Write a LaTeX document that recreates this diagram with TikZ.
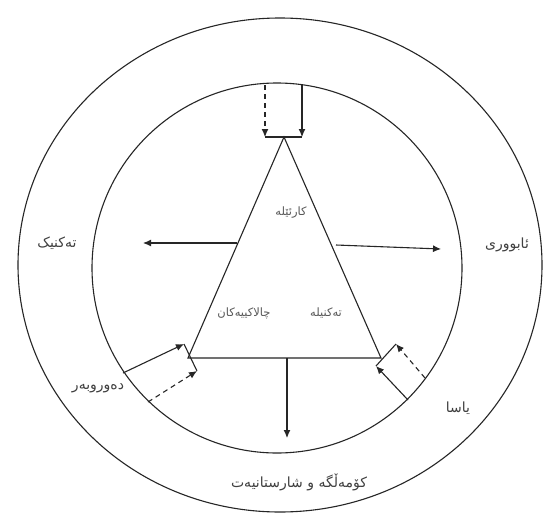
\documentclass[tikz,border=0pt]{standalone}
\usepackage{fontspec}
\usetikzlibrary{arrows.meta}
\TeXXeTstate=1
\newfontfamily\arabicfont[Script=Arabic]{DejaVu Sans}
\begin{document}
\begin{tikzpicture}[x=1pt,y=-1pt,
  ln/.style={line width=1.1pt,draw=black!85},
  arr/.style={ln,-{Latex[length=8pt,width=7pt]}},
  darr/.style={arr,dash pattern=on 5pt off 4pt},
  lbl/.style={font=\arabicfont\fontsize{14}{16}\selectfont,text=black!75,inner sep=1pt},
  slbl/.style={font=\arabicfont\fontsize{11.5}{13}\selectfont,text=black!65,inner sep=1pt}]
\useasboundingbox (0,0) rectangle (547,517);
\fill[white] (0,0) rectangle (547,517);
% circles
\draw[ln] (280,265) ellipse [x radius=262,y radius=247];
\draw[ln] (277,268) circle [radius=185];
% triangle
\coordinate (A) at (284,137);
\coordinate (B) at (188,358);
\coordinate (C) at (381,358);
\draw[ln] (A) -- (B) -- (C) -- cycle;
% top box
\coordinate (t1) at (265,85);
\coordinate (t2) at (302,85);
\coordinate (t3) at (265,137);
\coordinate (t4) at (302,137);
\draw[darr] (t1) -- (t3);
\draw[arr] (t2) -- (t4);
\draw[ln] (t3) -- (t4);
% side arrows
\coordinate (l0) at (237,243);
\coordinate (l1) at (143,243);
\draw[arr] (l0) -- (l1);
\coordinate (r0) at (336,245);
\coordinate (r1) at (441,249);
\draw[arr] (r0) -- (r1);
\coordinate (b0) at (287,358);
\coordinate (b1) at (287,438);
\draw[arr] (b0) -- (b1);
% bottom-left box
\coordinate (bl1) at (123,373);
\coordinate (bl2) at (184,344);
\coordinate (bl3) at (148,402);
\coordinate (bl4) at (197,371);
\draw[arr] (bl1) -- (bl2);
\draw[darr] (bl3) -- (bl4);
\draw[ln] (bl2) -- (bl4);
% bottom-right box
\coordinate (br1) at (408,400);
\coordinate (br2) at (376,366);
\coordinate (br3) at (425,378);
\coordinate (br4) at (396,344);
\draw[arr] (br1) -- (br2);
\draw[darr] (br3) -- (br4);
\draw[ln] (br2) -- (br4);
% labels
\node[slbl] (k1) at (291,213) {\beginR کارئێلە\endR};
\node[slbl] (k2) at (326,313) {\beginR تەکنیلە\endR};
\node[slbl] (k3) at (244,313) {\beginR چالاکییەکان\endR};
\node[lbl] (n1) at (57,243) {\beginR تەکنیک\endR};
\node[lbl] (n2) at (507,245) {\beginR ئابووری\endR};
\node[lbl] (n3) at (458,408) {\beginR یاسا\endR};
\node[lbl] (n4) at (98,388) {\beginR دەوروبەر\endR};
\node[lbl] (n5) at (299,482) {\beginR کۆمەڵگە و شارستانیەت\endR};
\end{tikzpicture}
\end{document}
